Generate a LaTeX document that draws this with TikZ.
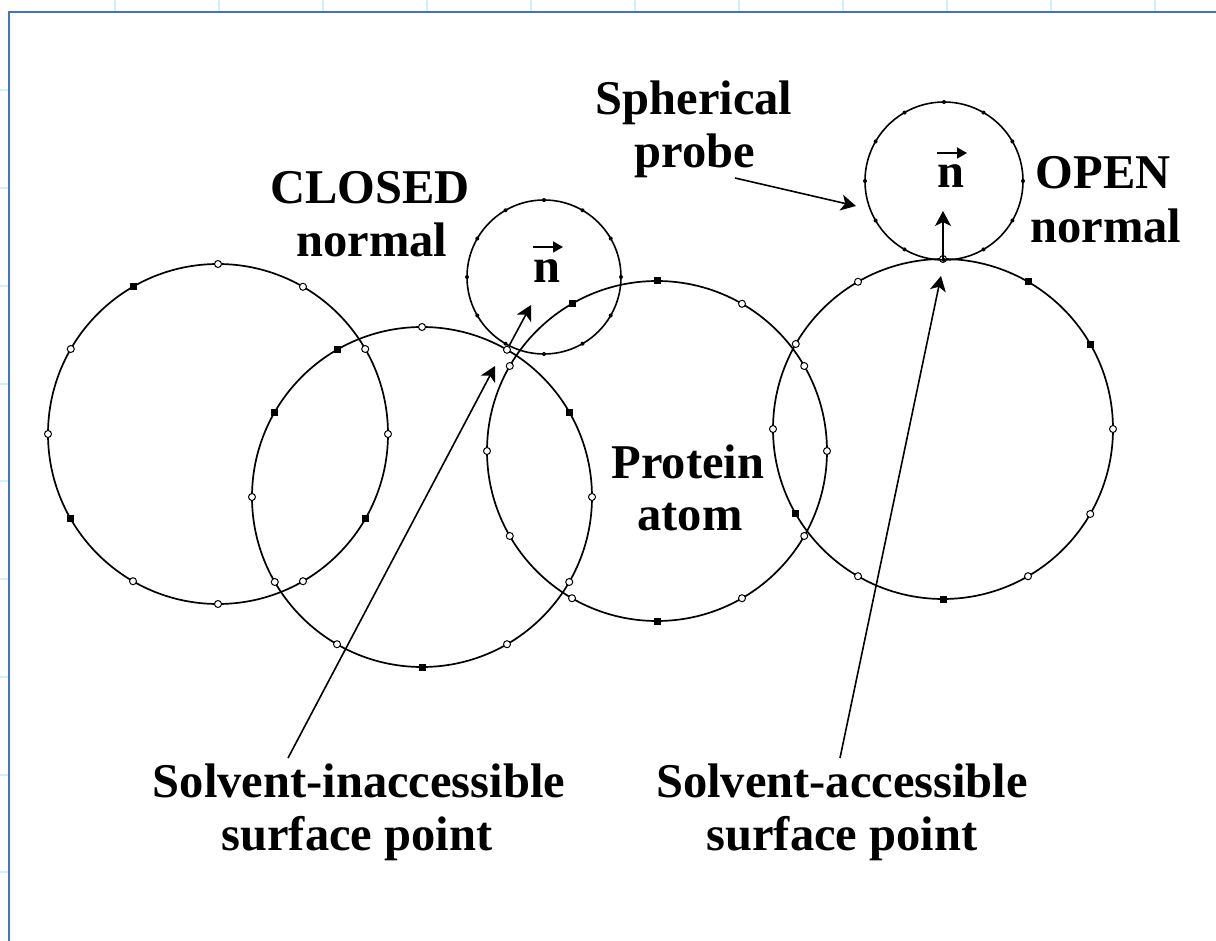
\documentclass[tikz,border=0pt]{standalone}
\usepackage{fontspec}
\setmainfont{Liberation Serif}
\usetikzlibrary{arrows.meta}
\definecolor{framecol}{RGB}{68,114,196}
\definecolor{gridcol}{RGB}{205,243,250}
\begin{document}
\begin{tikzpicture}[x=1pt,y=-1pt,
  atom/.style={circle, draw, line width=1.7pt, minimum size=340pt, inner sep=0pt, outer sep=0pt},
  probe/.style={circle, draw, line width=1.6pt, inner sep=0pt, outer sep=0pt},
  lbl/.style={font=\fontsize{48.5}{53}\selectfont\bfseries, inner sep=0pt, anchor=base},
  ptr/.style={line width=1.6pt, -{Stealth[length=15pt,width=16pt,inset=4pt]}},
  vecarr/.style={line width=1.8pt, -{Triangle[length=10pt,width=11pt]}},
  mo/.style={circle, draw, fill=white, line width=1pt, minimum size=7pt, inner sep=0pt},
  mf/.style={rectangle, fill=black, minimum size=7pt, inner sep=0pt},
  tick/.style={fill=black}
]
% canvas and margins
\useasboundingbox (0,0) rectangle (1216,941);
\fill[white] (0,0) rectangle (1216,941);
\foreach \gx in {115,219,323,427,531,635,739,843,947,1051,1155}
  \draw[gridcol, line width=2pt] (\gx,0) -- (\gx,11);
\foreach \gy in {90,188,286,384,481,579,677,775,872}
  \draw[gridcol, line width=2pt] (0,\gy) -- (8,\gy);
\draw[framecol, line width=2.2pt] (9,941) -- (9,12) -- (1216,12);

% protein atoms
\node[atom] (a1) at (218,434) {};
\node[atom] (a2) at (422,497) {};
\node[atom] (a3) at (657,451) {};
\node[atom] (a4) at (943,429) {};

% surface points on the atoms
\foreach \ang/\ty [count=\i] in {0/mo,30/mo,60/mo,90/mo,120/mf,150/mo,180/mo,210/mf,240/mo,270/mo,300/mo,330/mf}
  \node[\ty] (a1m\i) at (a1.\ang) {};
\foreach \ang/\ty [count=\i] in {0/mo,30/mf,60/mo,90/mo,120/mf,150/mf,180/mo,210/mo,240/mo,270/mf,300/mo,330/mo}
  \node[\ty] (a2m\i) at (a2.\ang) {};
\foreach \ang/\ty [count=\i] in {0/mo,30/mo,60/mo,90/mf,120/mf,150/mo,180/mo,210/mo,240/mo,270/mf,300/mo,330/mo}
  \node[\ty] (a3m\i) at (a3.\ang) {};
\foreach \ang/\ty [count=\i] in {0/mo,30/mf,60/mf,90/mo,120/mo,150/mo,180/mo,210/mf,240/mo,270/mf,300/mo,330/mo}
  \node[\ty] (a4m\i) at (a4.\ang) {};

% spherical probes
\node[probe, minimum size=154pt] (p1) at (544,277) {};
\node[probe, minimum size=158pt] (p2) at (944,181) {};
\foreach \ang in {0,30,...,330} {
  \fill[tick] (p1.\ang) circle[radius=2];
  \fill[tick] (p2.\ang) circle[radius=2];
}

% normal vectors n
\node[lbl] (n1) at (547,283) {n};
\node[lbl] (n2) at (951,188) {n};
\draw[vecarr] (n1.base) ++(-14,-36) -- ++(30,0);
\draw[vecarr] (n2.base) ++(-14,-35) -- ++(30,0);

% labels
\node[lbl] (closedA) at (370,204) {CLOSED};
\node[lbl] (closedB) at (372,257) {normal};
\node[lbl] (spherA) at (694,115) {Spherical};
\node[lbl] (spherB) at (695,168) {probe};
\node[lbl] (openA) at (1103,189) {OPEN};
\node[lbl] (openB) at (1106,243) {normal};
\node[lbl] (protA) at (688,478) {Protein};
\node[lbl] (protB) at (690,530) {atom};
\node[lbl] (sinA) at (359,797) {Solvent-inaccessible};
\node[lbl] (sinB) at (357,850) {surface point};
\node[lbl] (saA) at (842,797) {Solvent-accessible};
\node[lbl] (saB) at (842,850) {surface point};

% connector end points
\coordinate (sinS) at (288,758);
\coordinate (sinT) at (495,366);
\coordinate (saS) at (840,758);
\coordinate (saT) at (941,276);
\coordinate (cnT) at (531,305);
\coordinate (onT) at (943,211);
\coordinate (spS) at (735,178);
\coordinate (spT) at (856,206);

% arrows
\draw[ptr] (sinS) -- (sinT);
\draw[ptr] (saS) -- (saT);
\draw[ptr] (a2m3) -- (cnT);
\draw[ptr] (a4m4.center) -- (onT);
\draw[ptr] (spS) -- (spT);
\end{tikzpicture}
\end{document}
